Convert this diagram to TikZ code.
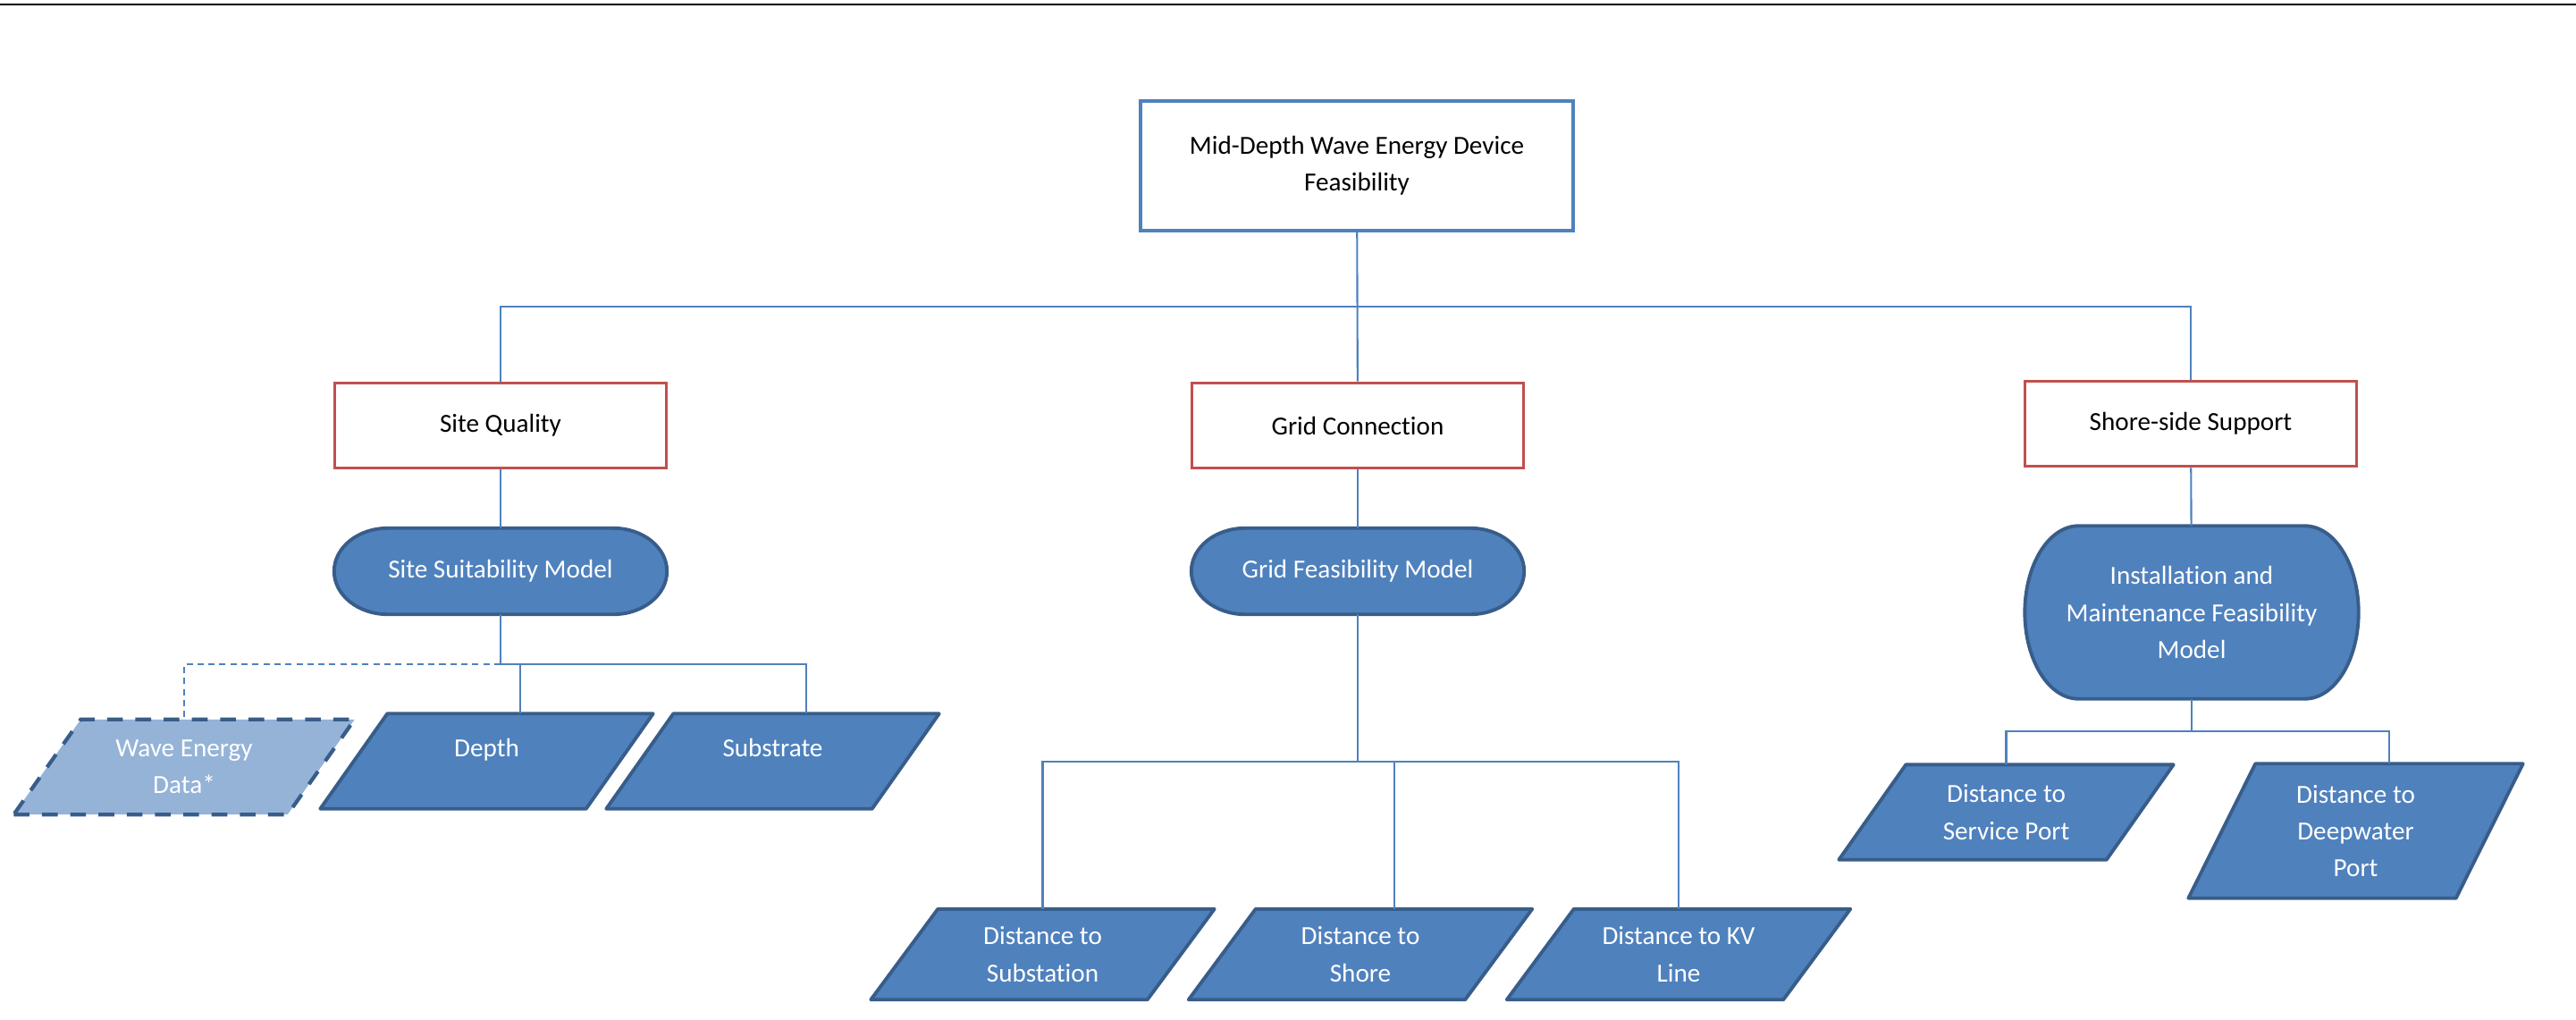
\documentclass[tikz,border=0pt]{standalone}
\usepackage{fontspec}
\setmainfont{Carlito}[Ligatures={NoCommon,NoContextual},Contextuals=NoAlternate]
\usepackage{tikz}
\usetikzlibrary{positioning,calc,backgrounds}
\definecolor{cline}{RGB}{79,129,189}
\definecolor{cdark}{RGB}{56,93,138}
\definecolor{cfill}{RGB}{79,129,189}
\definecolor{clight}{RGB}{149,179,215}
\definecolor{ccat}{RGB}{192,80,77}

\begin{document}
\begin{tikzpicture}[font=\fontsize{8.3}{11.7}\selectfont,
  goal/.style={draw=cline,line width=1.1pt,fill=white,minimum width=48.4mm,minimum height=14.5mm,align=center,inner sep=0pt},
  cat/.style={draw=ccat,line width=1.1pt,fill=white,minimum width=37.1mm,minimum height=9.5mm,align=center,inner sep=0pt},
  model/.style={text=white,minimum width=37.1mm,minimum height=9.5mm,align=center,inner sep=0pt},
  datum/.style={text=white,minimum width=37.1mm,minimum height=10.5mm,align=center,inner sep=0pt},
  modelshape/.style={draw=cdark,line width=1.1pt,fill=cfill},
  datashape/.style={draw=cdark,line width=1.1pt,fill=cfill,line join=round},
  optshape/.style={draw=cdark,line width=1.2pt,fill=clight,dash pattern=on 5pt off 4pt},
  link/.style={draw=cline,line width=0.6pt},
  optlink/.style={link,dash pattern=on 2pt off 1.5pt},
]
\useasboundingbox (0,0) rectangle (28.82,-11.40);
\draw[line width=0.6pt] (0,-0.05) -- (28.82,-0.05);

\node[goal] (top) at (15.18,-1.855) {Mid-Depth Wave Energy Device\\Feasibility};
\node[cat] (sq) at (5.60,-4.76) {Site Quality};
\node[cat] (gc) at (15.19,-4.76) {Grid Connection};
\node[cat] (ss) at (24.51,-4.74) {Shore-side Support};

\node[model] (ssm) at (5.60,-6.39) {Site Suitability Model};
\node[model] (gfm) at (15.19,-6.39) {Grid Feasibility Model};
\node[model,minimum width=37.2mm,minimum height=19.2mm] (imf) at (24.52,-6.85) {Installation and\\Maintenance Feasibility\\Model};

\node[datum,minimum width=38mm] (wed) at (2.06,-8.58) {Wave Energy\\Data*};
\node[datum,text depth=3mm] (depth) at (5.445,-8.515) {Depth};
\node[datum,text depth=3mm] (substr) at (8.645,-8.515) {Substrate};

\node[datum,minimum width=38.3mm,minimum height=10mm] (dsub) at (11.665,-10.675) {Distance to\\Substation};
\node[datum,minimum width=38.3mm,minimum height=10mm] (dsho) at (15.22,-10.675) {Distance to\\Shore};
\node[datum,minimum width=38.3mm,minimum height=10mm] (dkv) at (18.78,-10.675) {Distance to KV\\Line};

\node[datum,minimum width=37.3mm] (dsp) at (22.445,-9.085) {Distance to\\Service Port};
\node[datum,minimum width=37.3mm,minimum height=14.9mm] (ddp) at (26.355,-9.295) {Distance to\\Deepwater\\Port};

\begin{scope}[on background layer]
\foreach \m in {ssm,gfm,imf}
  \path[modelshape] let \p1=(\m.north west), \p2=(\m.south east), \n1={(\y1-\y2)/2} in
    (\x1+6mm,\y1) -- (\x2-6mm,\y1) arc[start angle=90,end angle=-90,x radius=6mm,y radius=\n1]
    -- (\x1+6mm,\y2) arc[start angle=270,end angle=90,x radius=6mm,y radius=\n1] -- cycle;
\foreach \m in {depth,substr,dsub,dsho,dkv,dsp,ddp}
  \path[datashape] (\m.south west) -- ([xshift=-7.5mm]\m.south east) -- (\m.north east)
    -- ([xshift=7.5mm]\m.north west) -- cycle;
\path[optshape] (wed.south west) -- ([xshift=-7.5mm]wed.south east) -- (wed.north east)
  -- ([xshift=7.5mm]wed.north west) -- cycle;
\end{scope}

\coordinate (bus1) at ($(top.south)!0.5!(gc.north)$);
\draw[link] (top) -- (gc);
\draw[link] (sq.north) |- (bus1) -| (ss.north);
\draw[link] (sq) -- (ssm);
\draw[link] (gc) -- (gfm);
\draw[link] (ss) -- (imf);

\draw[link] (ssm.south) -- ++(0,-0.56) coordinate (bus2) -| ([xshift=3.75mm]depth.north);
\draw[link] (bus2) -| ([xshift=3.75mm]substr.north);
\draw[optlink] (bus2) -| (wed.north);

\draw[link] (gfm.south) -- ++(0,-1.645) coordinate (bus3) -| (dsub.north);
\draw[link] (bus3) -| (dkv.north);
\draw[link] (bus3) -| ([xshift=3.8mm]dsho.north);

\draw[link] (imf.south) -- ++(0,-0.36) coordinate (bus4) -| (dsp.north);
\draw[link] (bus4) -| ([xshift=3.75mm]ddp.north);
\end{tikzpicture}
\end{document}
